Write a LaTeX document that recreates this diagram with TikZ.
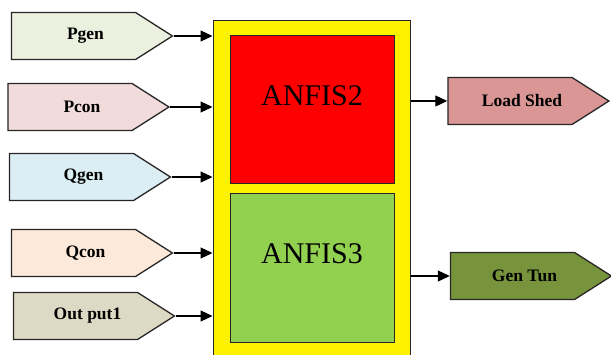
\documentclass[tikz,border=0pt]{standalone}
\usepackage{fontspec}
\setmainfont{Liberation Serif}
\usetikzlibrary{arrows.meta, positioning, shapes.symbols}

\definecolor{pgenfill}{HTML}{EBF1DE}
\definecolor{pconfill}{HTML}{F2DCDB}
\definecolor{qgenfill}{HTML}{DBEEF4}
\definecolor{qconfill}{HTML}{FDE9D9}
\definecolor{outfill}{HTML}{DDD9C4}
\definecolor{shedfill}{HTML}{D99694}
\definecolor{tunfill}{HTML}{77933C}
\definecolor{anfisred}{HTML}{FF0000}
\definecolor{anfisgreen}{HTML}{92D050}
\definecolor{edgegray}{HTML}{262626}

\begin{document}
\begin{tikzpicture}[x=1pt, y=1pt,
    sig/.style={shape=signal, signal to=east, signal pointer angle=65,
        draw=edgegray, line width=1.3pt, minimum height=47pt, minimum width=161pt,
        inner sep=0pt, font=\fontsize{17.5}{19}\selectfont\bfseries,
        execute at begin node={\hspace*{24pt}}},
    block/.style={draw=edgegray, line width=1pt, minimum width=164pt,
        text depth=27pt, font=\fontsize{30}{32}\selectfont},
    feed/.style={line width=1.1pt, -{Triangle[length=12pt, width=11pt]}}]
    \clip (0,0) rectangle (611,-354);
    \useasboundingbox (0,0) rectangle (611,-354);

    % Main block with the two ANFIS units
    \node[draw=edgegray, line width=1pt, fill=yellow, minimum width=197pt,
        minimum height=345pt, inner sep=0pt] (anfis) at (311.5,-192.5) {};
    \node[block, fill=anfisred, minimum height=148pt] (anfisA) at (312,-109) {ANFIS2};
    \node[block, fill=anfisgreen, minimum height=149pt] (anfisB) at (312,-267.5) {ANFIS3};

    % Inputs
    \node[sig, fill=pgenfill] (pgen) at (73.5,-36) {Pgen};
    \node[sig, fill=pconfill] (pcon) at (70,-107) {Pcon};
    \node[sig, fill=qgenfill] (qgen) at (71.5,-177) {Qgen};
    \node[sig, fill=qconfill] (qcon) at (73.5,-253) {Qcon};
    \node[sig, fill=outfill] (outone) at (75.5,-316) {Out put1};

    \foreach \n in {pgen, pcon, qgen, qcon, outone}
        \draw[feed] (\n.east) -- (\n.east -| anfis.west);

    % Outputs
    \node[sig, fill=shedfill] (shed) at (510,-101) {Load Shed};
    \node[sig, fill=tunfill] (gentun) at (512.5,-276) {Gen Tun};

    \draw[feed] (anfis.east |- shed.west) -- (shed.west);
    \draw[feed] (anfis.east |- gentun.west) -- (gentun.west);
\end{tikzpicture}
\end{document}
